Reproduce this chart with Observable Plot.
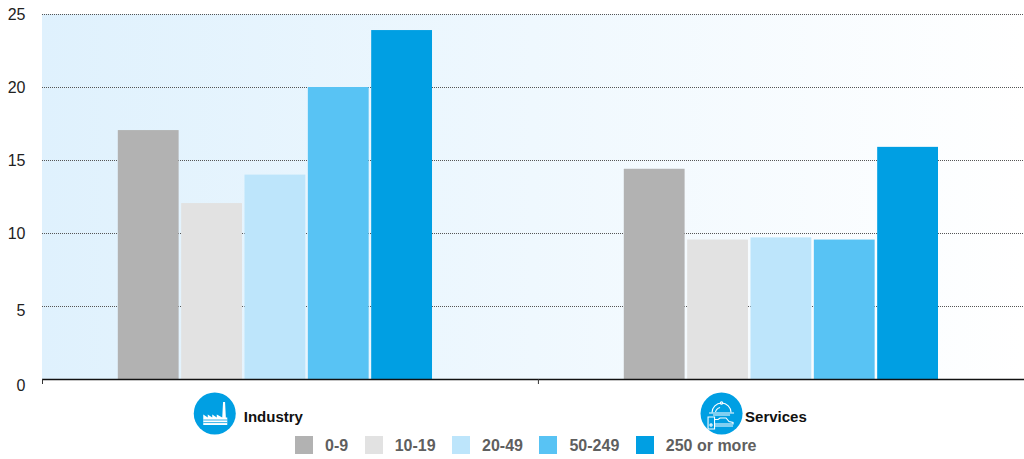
<!DOCTYPE html>
<html>
<head>
<meta charset="utf-8">
<script src="https://cdn.jsdelivr.net/npm/d3@7"></script>
<script src="https://cdn.jsdelivr.net/npm/@observablehq/plot@0.6"></script>
<style>
  html, body { margin: 0; padding: 0; background: #fff; }
  body { width: 1024px; height: 459px; overflow: hidden; font-family: "Liberation Sans", Arial, sans-serif; }
  svg { display: block; }
  #legend { display: flex; gap: 16.5px; padding: 1px 0 0 295px; height: 23px; }
  #legend .item { display: flex; align-items: center; gap: 12px; font-size: 16px; font-weight: 700; color: #5f5f5f; height: 18px; line-height: 18px; }
  #legend .item span { position: relative; top: 1px; }
  #legend .swatch { width: 18px; height: 18px; }
</style>
</head>
<body>
<div id="chart"></div>
<div id="legend"></div>
<script>
// Firm size classes and their colours
const sizes = ["0-9", "10-19", "20-49", "50-249", "250 or more"];
const colors = ["#b2b2b2", "#e2e2e2", "#bde5fb", "#58c3f4", "#009fe3"];

// Sectors and their values per size class
const sectors = ["Industry", "Services"];
const industry = [17.05, 12.05, 14, 20, 23.9];
const services = [14.4, 9.55, 9.7, 9.55, 15.9];

const yTicksUpper = [10, 15, 20, 25];
const gridValues = [5, 10, 15, 20, 25];

const rows = [
  ...sizes.map((size, i) => ({sector: "Industry", size, value: industry[i], slot: "Industry " + size})),
  ...sizes.map((size, i) => ({sector: "Services", size, value: services[i], slot: "Services " + size}))
];

// Band slots: five bars, an empty stretch, five bars
const slots = [
  ...sizes.map(s => "Industry " + s),
  "spacer a", "spacer b", "spacer c",
  ...sizes.map(s => "Services " + s)
];

const blue = "#009fe3";
const anchorSlot = {Industry: "Industry 10-19", Services: "Services 10-19"};
const sectorRows = sectors.map(sector => ({sector, slot: anchorSlot[sector]}));
const discCenterY = 34;
const discOffsetX = 3.5;

// Washed blue panel behind the bars, fading to white on the right
function panel(index, scales, values, dims) {
  const g = d3.create("svg:g");
  const grad = g.append("defs").append("linearGradient").attr("id", "panelFade");
  grad.append("stop").attr("offset", "0%").attr("stop-color", "#dff1fd");
  grad.append("stop").attr("offset", "100%").attr("stop-color", "#ffffff");
  g.append("rect")
    .attr("x", dims.marginLeft)
    .attr("y", dims.marginTop)
    .attr("width", dims.width - dims.marginLeft - dims.marginRight)
    .attr("height", dims.height - dims.marginTop - dims.marginBottom)
    .attr("fill", "url(#panelFade)");
  return g.node();
}

// Small ticks under the baseline at the start of each sector's stretch
function baselineTicks(index, scales, values, dims) {
  const g = d3.create("svg:g").attr("stroke", "#333").attr("stroke-width", 1);
  const y0 = scales.y(0);
  const w = dims.width - dims.marginLeft - dims.marginRight;
  [0, 0.505].forEach(f => {
    const x = dims.marginLeft + f * w + 0.5;
    g.append("line").attr("x1", x).attr("x2", x).attr("y1", y0).attr("y2", y0 + 5);
  });
  return g.node();
}

// White pictograms drawn over the blue sector discs
function pictograms(index, scales, values, dims) {
  const cy = dims.height - dims.marginBottom + discCenterY;
  const bw = scales.scales.x.bandwidth;
  const cx = sector => scales.x(anchorSlot[sector]) + bw / 2 + discOffsetX;
  const g = d3.create("svg:g").attr("fill", "none");

  const factory = g.append("g").attr("transform", `translate(${cx("Industry")},${cy})`);
  factory.append("path").attr("fill", "#fff")
    .attr("d", "M-11 12V1.5L-6.5 4.5V1.5L-2 4.5V1.5L2.5 4.5V1.5L8 4.5L8.8 -11H10.8L11.6 4.5H13V12Z");
  factory.append("path").attr("stroke", blue).attr("stroke-width", 0.8)
    .attr("d", "M-11 7H13M-11 9.6H13");

  const service = g.append("g")
    .attr("stroke", "#fff").attr("stroke-width", 1.1)
    .attr("transform", `translate(${cx("Services")},${cy})`);
  service.append("path").attr("d", "M-9 -0.5A9.5 9.5 0 0 1 10 -0.5");
  service.append("path").attr("d", "M-5.5 -1A6 6 0 0 1 -1 -5.5");
  service.append("path").attr("d", "M-12 0H13M-8 2H9");
  service.append("circle").attr("cx", 0.5).attr("cy", -10).attr("r", 1.2);
  service.append("path").attr("d", "M-13 4H-6.5V16H-13ZM-6.5 6.5H-3L-1 5H5L8 8.5L12 9.5V11H-6.5M-6.5 13H-4H12");
  service.append("circle").attr("cx", -10).attr("cy", 12).attr("r", 1.1);
  return g.node();
}

const sectorLabel = (sector, dx) => Plot.text(sectorRows.filter(d => d.sector === sector), {
  x: "slot", text: "sector", frameAnchor: "bottom", lineAnchor: "middle", dy: 38, dx,
  textAnchor: "start", fontSize: 15, fontWeight: 700, fill: "#111"
});

const plot = Plot.plot({
  width: 1024,
  height: 435,
  marginTop: 14,
  marginRight: 0,
  marginBottom: 56,
  marginLeft: 42,
  style: {background: "transparent", fontFamily: "'Liberation Sans', Arial, sans-serif", overflow: "visible"},
  x: {type: "band", domain: slots, range: [117, 938], paddingInner: 0.04, paddingOuter: 0, round: false, axis: null},
  y: {domain: [0, 25], axis: null},
  color: {domain: sizes, range: colors},
  marks: [
    panel,
    Plot.ruleY(gridValues, {stroke: "#555", strokeWidth: 1, strokeDasharray: "1,1"}),
    Plot.barY(rows.filter(d => d.sector === "Industry"), {x: "slot", y: "value", fill: "size", dx: 0.8}),
    Plot.barY(rows.filter(d => d.sector === "Services"), {x: "slot", y: "value", fill: "size"}),
    Plot.ruleY([0], {stroke: "#111", strokeWidth: 1.4}),
    baselineTicks,
    Plot.axisY(yTicksUpper, {anchor: "left", tickSize: 0, tickPadding: 17, fontSize: 16, fill: "#222", label: null}),
    Plot.axisY([5], {anchor: "left", tickSize: 0, tickPadding: 17, fontSize: 16, fill: "#222", label: null, dy: 4}),
    Plot.axisY([0], {anchor: "left", tickSize: 0, tickPadding: 17, fontSize: 16, fill: "#222", label: null, dy: 6}),
    Plot.dot(sectorRows, {x: "slot", frameAnchor: "bottom", dy: discCenterY, dx: discOffsetX, r: 21, fill: blue}),
    pictograms,
    sectorLabel("Industry", 32.5),
    sectorLabel("Services", 27)
  ]
});
document.getElementById("chart").append(plot);

// Size-class key under the chart
const legend = d3.select("#legend");
sizes.forEach((size, i) => {
  const item = legend.append("div").attr("class", "item");
  item.append("div").attr("class", "swatch").style("background", colors[i]);
  item.append("span").text(size);
});
</script>
</body>
</html>
